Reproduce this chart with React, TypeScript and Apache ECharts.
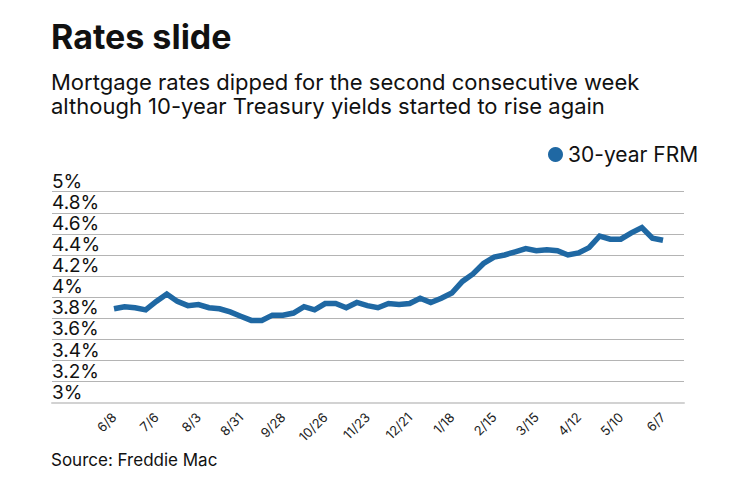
import React, { useEffect, useRef } from "react";
import * as echarts from "echarts";

const weeks = [
  "6/8", "6/15", "6/22", "6/29", "7/6", "7/13", "7/20", "7/27",
  "8/3", "8/10", "8/17", "8/24", "8/31", "9/7", "9/14", "9/21",
  "9/28", "10/5", "10/12", "10/19", "10/26", "11/2", "11/9", "11/16",
  "11/23", "11/30", "12/7", "12/14", "12/21", "12/28", "1/4", "1/11",
  "1/18", "1/25", "2/1", "2/8", "2/15", "2/22", "3/1", "3/8",
  "3/15", "3/22", "3/29", "4/5", "4/12", "4/19", "4/26", "5/3",
  "5/10", "5/17", "5/24", "5/31", "6/7",
];

const frm30 = [
  3.89, 3.91, 3.90, 3.88, 3.96, 4.03, 3.96, 3.92,
  3.93, 3.90, 3.89, 3.86, 3.82, 3.78, 3.78, 3.83,
  3.83, 3.85, 3.91, 3.88, 3.94, 3.94, 3.90, 3.95,
  3.92, 3.90, 3.94, 3.93, 3.94, 3.99, 3.95, 3.99,
  4.04, 4.15, 4.22, 4.32, 4.38, 4.40, 4.43, 4.46,
  4.44, 4.45, 4.44, 4.40, 4.42, 4.47, 4.58, 4.55,
  4.55, 4.61, 4.66, 4.56, 4.54,
];

const yTicks = [3, 3.2, 3.4, 3.6, 3.8, 4, 4.2, 4.4, 4.6, 4.8, 5];
const yTickLabels = ["3%", "3.2%", "3.4%", "3.6%", "3.8%", "4%", "4.2%", "4.4%", "4.6%", "4.8%", "5%"];

const seriesName = "30-year FRM";
const titleText = "Rates slide";
const subtitleText =
  "Mortgage rates dipped for the second consecutive week\nalthough 10-year Treasury yields started to rise again";
const sourceText = "Source: Freddie Mac";

const FONT = "Inter, Lato, sans-serif";

export default function App() {
  const ref = useRef<HTMLDivElement>(null);

  useEffect(() => {
    const chart = echarts.init(ref.current!, null, { renderer: "svg" });
    const labelFor = (v: number) => {
      const i = yTicks.findIndex((t) => Math.abs(t - v) < 1e-6);
      return i >= 0 ? yTickLabels[i] : "";
    };
    chart.setOption({
      animation: false,
      backgroundColor: "#ffffff",
      textStyle: { fontFamily: FONT },
      title: [
        {
          text: titleText,
          left: 51,
          top: 19,
          padding: 0,
          textStyle: { fontSize: 34, fontWeight: "bold", color: "#111", fontFamily: FONT },
        },
        {
          text: subtitleText,
          left: 51,
          top: 70,
          padding: 0,
          textStyle: { fontSize: 22, lineHeight: 24, fontWeight: "normal", color: "#111", fontFamily: FONT },
        },
        {
          text: sourceText,
          left: 51,
          top: 451,
          padding: 0,
          textStyle: { fontSize: 17, fontWeight: "normal", color: "#111", fontFamily: FONT },
        },
      ],
      legend: {
        left: 548,
        top: 144,
        padding: 0,
        icon: "circle",
        itemWidth: 15,
        itemHeight: 15,
        textStyle: { fontSize: 21, color: "#111", fontFamily: FONT },
        data: [seriesName],
      },
      grid: [
        { left: 52, right: 56, top: 191.7, bottom: 79.3 },
        { left: 114, right: 77, top: 191.7, bottom: 79.3 },
      ],
      xAxis: [
        {
          gridIndex: 0,
          type: "value",
          min: 0,
          max: 1,
          axisLine: { show: true, lineStyle: { color: "#d2d2d2", width: 2 } },
          axisTick: { show: false },
          axisLabel: { show: false },
          splitLine: { show: false },
        },
        {
          gridIndex: 1,
          type: "category",
          data: weeks,
          boundaryGap: false,
          axisLine: { show: false },
          axisTick: { show: false },
          splitLine: { show: false },
          axisLabel: {
            interval: 3,
            rotate: 45,
            margin: 12,
            fontSize: 13,
            color: "#222",
            fontFamily: FONT,
          },
        },
      ],
      yAxis: [
        {
          gridIndex: 0,
          type: "value",
          min: 3,
          max: 5,
          interval: 0.2,
          axisLine: { show: false },
          axisTick: { show: false },
          splitLine: { show: true, lineStyle: { color: "#b4b4b4", width: 1.2 } },
          axisLabel: {
            inside: true,
            margin: 0,
            align: "left",
            verticalAlign: "bottom",
            padding: [0, 0, 1, 0],
            fontSize: 19,
            lineHeight: 19,
            color: "#111",
            fontFamily: FONT,
            formatter: (v: number) => labelFor(v),
          },
        },
        {
          gridIndex: 1,
          type: "value",
          min: 3,
          max: 5,
          show: false,
          splitLine: { show: false },
        },
      ],
      series: [
        {
          name: seriesName,
          type: "line",
          xAxisIndex: 1,
          yAxisIndex: 1,
          data: frm30,
          symbol: "none",
          itemStyle: { color: "#1f68a3" },
          lineStyle: { color: "#1f68a3", width: 5.5, join: "miter" },
        },
      ],
    });
    return () => chart.dispose();
  }, []);

  return (
    <div
      ref={ref}
      style={{ position: "fixed", left: 0, top: 0, width: 740, height: 482, background: "#fff" }}
    />
  );
}
